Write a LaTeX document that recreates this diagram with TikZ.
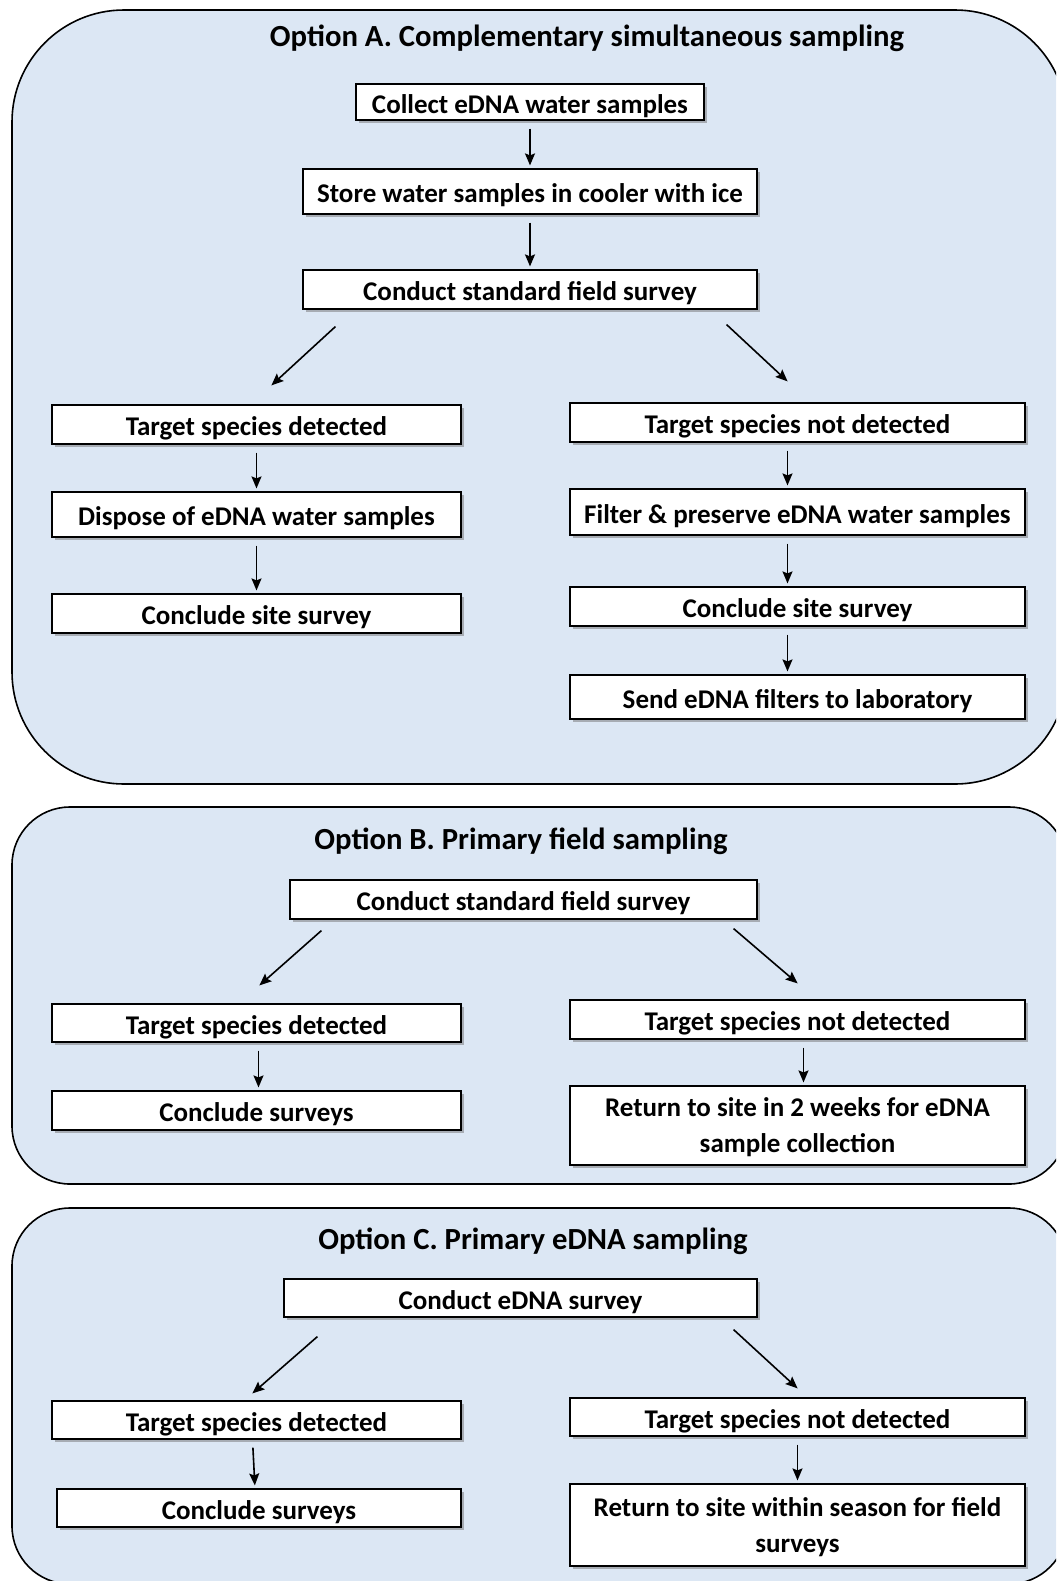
\documentclass[tikz,border=0pt]{standalone}
\usepackage{fontspec}
\setmainfont{Carlito}
\usetikzlibrary{positioning, arrows.meta, shadows}
\definecolor{panelblue}{RGB}{220,231,244}
\tikzset{
  >={Stealth[length=6pt, width=5pt, inset=1pt]},
  x=0.5pt, y=-0.5pt,
  panel/.style={draw=black, line width=0.8pt, fill=panelblue},
  paneltitle/.style={font=\bfseries\fontsize{15.35}{18}\selectfont},
  stepbox/.style={draw=black, line width=0.6pt, fill=white, inner sep=0pt,
    align=center, font=\bfseries\fontsize{13.5}{17}\selectfont,
    text height=11pt, text depth=0pt,
    drop shadow={shadow xshift=1.5pt, shadow yshift=-1.5pt, fill=black!55, opacity=0.5}},
  twoline/.style={text height=, text depth=0pt},
  lcol/.style={stepbox, minimum width=204.5pt, minimum height=19.5pt},
  rcol/.style={stepbox, minimum width=227.5pt, minimum height=19.5pt},
  flow/.style={->, line width=0.8pt, shorten <=4pt, shorten >=1.5pt},
  split/.style={->, line width=0.8pt},
}

\begin{document}
\begin{tikzpicture}
  \useasboundingbox (0,0) rectangle (1056,1581);
  \clip (0,0) rectangle (1056,1581);

  % panels
  \draw[panel, rounded corners=56pt] (12,10) rectangle (1067,784);
  \draw[panel, rounded corners=29pt] (12,807) rectangle (1067,1184);
  \draw[panel, rounded corners=29pt] (12,1208) rectangle (1067,1584);

  \node[paneltitle] (ta) at (587,38) {Option A. Complementary simultaneous sampling};
  \node[paneltitle] (tb) at (521,841) {Option B. Primary field sampling};
  \node[paneltitle] (tc) at (533,1241) {Option C. Primary eDNA sampling};

  % option A
  \node[stepbox, minimum width=174pt, minimum height=18pt] (colA) at (530,102) {Collect eDNA water samples};
  \node[stepbox, minimum width=227pt, minimum height=22.5pt] (stoA) at (530,191.5) {Store water samples in cooler with ice};
  \node[stepbox, minimum width=227pt, minimum height=19.5pt] (cfsA) at (530,289.5) {Conduct standard field survey};
  \node[lcol] (tdA) at (256.5,424.5) {Target species detected};
  \node[lcol, minimum height=22.5pt] (dispA) at (256.5,514.5) {Dispose of eDNA water samples};
  \node[lcol] (csA) at (256.5,613.5) {Conclude site survey};
  \node[rcol] (tndA) at (797.5,422.5) {Target species not detected};
  \node[rcol, minimum height=23pt] (filA) at (797.5,512) {Filter \& preserve eDNA water samples};
  \node[rcol] (cs2A) at (797.5,606.5) {Conclude site survey};
  \node[rcol, minimum height=22pt] (sendA) at (797.5,697) {Send eDNA filters to laboratory};

  \draw[flow] (colA) -- (stoA);
  \draw[flow] (stoA) -- (cfsA);
  \draw[split] ([shift={(33,17)}]cfsA.south west) -- ([shift={(220,-19)}]tdA.north west);
  \draw[split] ([shift={(-31,15)}]cfsA.south east) -- ([shift={(-238,-21)}]tndA.north east);
  \draw[flow] (tdA) -- (dispA);
  \draw[flow] (dispA) -- (csA);
  \draw[flow] ([xshift=-5pt]tndA.south) -- ([xshift=-5pt]filA.north);
  \draw[flow] ([xshift=-5pt]filA.south) -- ([xshift=-5pt]cs2A.north);
  \draw[flow] ([xshift=-5pt]cs2A.south) -- ([xshift=-5pt]sendA.north);

  % option B
  \node[stepbox, minimum width=233.5pt, minimum height=19.5pt] (cfsB) at (523.5,899.5) {Conduct standard field survey};
  \node[lcol, minimum height=19pt] (tdB) at (256.5,1023) {Target species detected};
  \node[lcol] (concB) at (256.5,1110.5) {Conclude surveys};
  \node[rcol] (tndB) at (797.5,1019.5) {Target species not detected};
  \node[rcol, twoline, minimum height=39.5pt] (retB) at (797.5,1125.5) {Return to site in 2 weeks for eDNA\\[1pt]sample collection};

  \draw[split] ([shift={(32,11)}]cfsB.south west) -- ([shift={(208,-18)}]tdB.north west);
  \draw[split] ([shift={(-24,9)}]cfsB.south east) -- ([shift={(-228,-16)}]tndB.north east);
  \draw[flow] ([xshift=1pt]tdB.south) -- ([xshift=1pt]concB.north);
  \draw[flow] ([xshift=3pt]tndB.south) -- ([xshift=3pt]retB.north);

  % option C
  \node[stepbox, minimum width=236.5pt, minimum height=19pt] (edC) at (520.5,1298) {Conduct eDNA survey};
  \node[lcol, minimum height=19pt] (tdC) at (256.5,1420) {Target species detected};
  \node[stepbox, minimum width=202pt, minimum height=19pt] (concC) at (259,1508) {Conclude surveys};
  \node[rcol, minimum height=19pt] (tndC) at (797.5,1417) {Target species not detected};
  \node[rcol, twoline, minimum height=41pt] (retC) at (797.5,1525) {Return to site within season for field\\[1pt]surveys};

  \draw[split] ([shift={(34,19)}]edC.south west) -- ([shift={(201,-7)}]tdC.north west);
  \draw[split] ([shift={(-24,12)}]edC.south east) -- ([shift={(-228,-9)}]tndC.north east);
  \draw[flow] ([xshift=-2pt]tdC.south) -- ([xshift=-2pt]concC.north);
  \draw[flow] (tndC) -- (retC);
\end{tikzpicture}
\end{document}
